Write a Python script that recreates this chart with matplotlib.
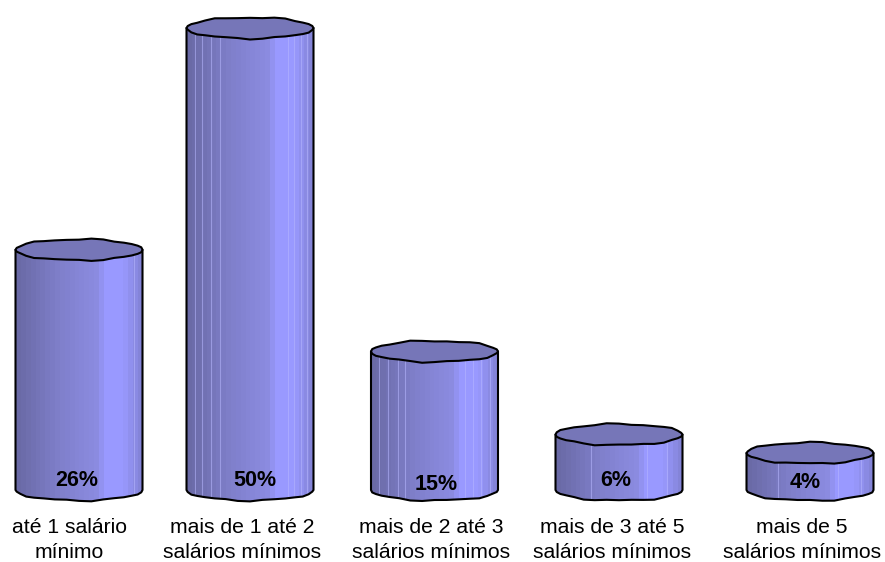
import numpy as np
import matplotlib
matplotlib.use("Agg")
import matplotlib.pyplot as plt
from matplotlib.colors import LinearSegmentedColormap
from matplotlib.patches import Polygon

plt.rcParams['font.family'] = ['Liberation Sans', 'DejaVu Sans']

categories = ["até 1 salário\nmínimo", "mais de 1 até 2\nsalários mínimos",
              "mais de 2 até 3\nsalários mínimos", "mais de 3 até 5\nsalários mínimos",
              "mais de 5\nsalários mínimos"]
values = [26, 50, 15, 6, 4]

# layout, in pixels of the 885x562 canvas
centers = [79, 250, 434.5, 619, 810]
label_x = [69, 242, 431, 612, 802]
pct_x = [77, 255, 436, 616, 805]
pct_y = [480, 480, 484, 480, 482]
half_w = 63.5
ell_h = 10.5
base_px = 490
px_per_unit = 9.24

# thin light stripes across each cylinder, as fractions of its width
stripes = [[0.93],
           [0.07, 0.12, 0.19, 0.26, 0.80, 0.85, 0.90, 0.95],
           [0.06, 0.13, 0.21, 0.27, 0.74, 0.80, 0.87, 0.94],
           [0.28, 0.72, 0.88],
           [0.25, 0.72, 0.90]]

shade = LinearSegmentedColormap.from_list(
    "shade", [(0, "#6a6aa6"), (0.35, "#8080cc"), (0.66, "#8c8ce2"),
              (0.70, "#9999ff"), (0.86, "#9999ff"), (1, "#8484d8")], N=26)


def py(p):
    # pixel row to value on the y axis
    return (base_px - p) / px_per_unit


def rim(cx, v, phase):
    # slightly uneven ellipse for the cylinder caps
    t = np.linspace(0, 2 * np.pi, 33)[:-1]
    x = cx + half_w * np.cos(t)
    wob = 0.7 * np.sin(6 * t + phase) + 0.4 * np.sin(11 * t + 2 * phase)
    y = (ell_h * np.sin(t) + wob * np.abs(np.sin(t)) ** 0.5) / px_per_unit + v
    return x, y, t


fig = plt.figure(figsize=(8.85, 5.62), dpi=100)
ax = fig.add_axes([0, 0, 1, 1])
ax.set_xlim(0, 885)
ax.set_ylim(py(562), py(0))
ax.axis("off")

for i, v in enumerate(values):
    cx = centers[i]
    xt, yt, t = rim(cx, v, i * 1.3)
    xb, yb, _ = rim(cx, 0, i * 1.3 + 0.7)
    lower = np.sin(t) < 0

    # body outline: the front of the bottom rim and the two side edges
    order = np.argsort(xb[lower])
    body_x = np.r_[cx - half_w, xb[lower][order], cx + half_w, cx + half_w, cx - half_w]
    body_y = np.r_[0, yb[lower][order], 0, v, v]
    body = Polygon(np.c_[body_x, body_y], closed=True, fc="none", ec="black",
                   lw=1.5, joinstyle="round", zorder=3)
    ax.add_patch(body)

    img = ax.imshow(np.linspace(0, 1, 26)[None, :], cmap=shade, aspect="auto",
                    extent=[cx - half_w, cx + half_w, py(base_px + 14), v],
                    interpolation="nearest", zorder=1)
    img.set_clip_path(body)
    for s in stripes[i]:
        x_s = cx - half_w + s * 2 * half_w
        line = ax.plot([x_s, x_s], [py(base_px + 14), v], color="#b8b8ff", lw=0.8,
                       alpha=0.55, zorder=2)[0]
        line.set_clip_path(body)

    ax.add_patch(Polygon(np.c_[xt, yt], closed=True, fc="#7676b8", ec="black",
                         lw=1.5, joinstyle="round", zorder=4))

    ax.text(pct_x[i], py(pct_y[i]), f"{v}%", ha="center", va="center",
            fontsize=15.5, fontweight="bold", color="black", zorder=5)
    ax.text(label_x[i], py(540), categories[i], ha="center", va="center",
            fontsize=15.2, linespacing=1.38, color="black")

fig.savefig("out.png", dpi=100, facecolor="white")
